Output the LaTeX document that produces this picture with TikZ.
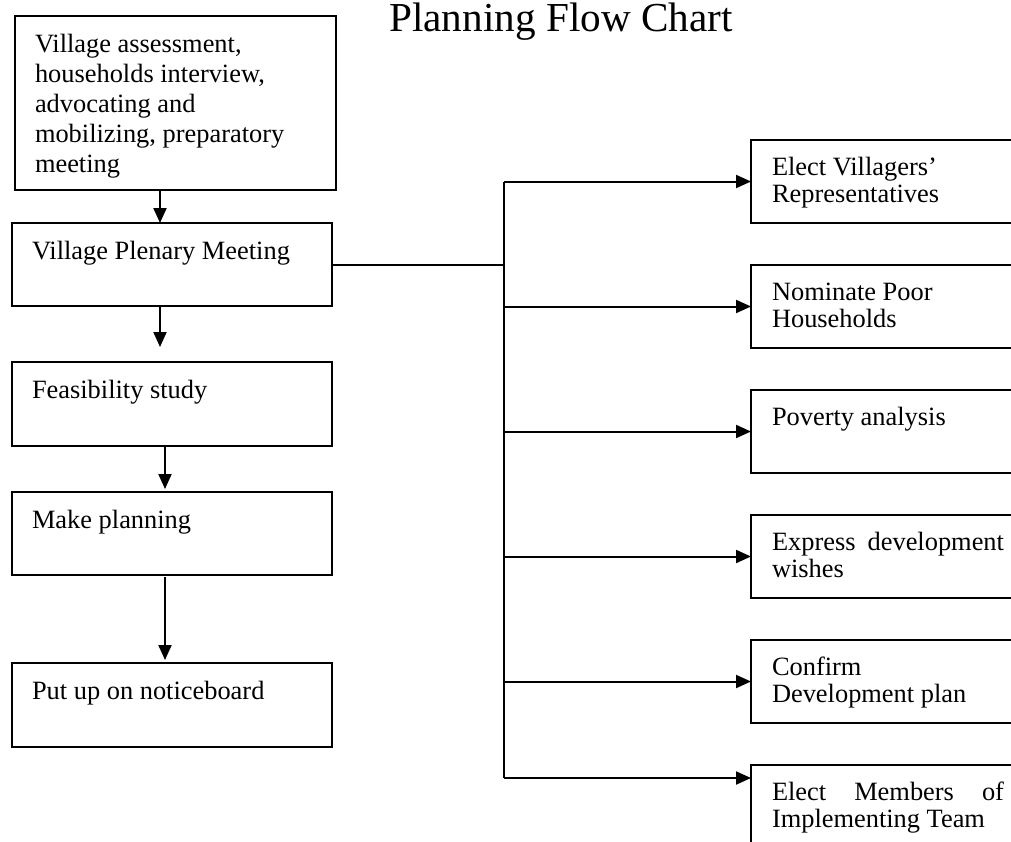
\documentclass[tikz,border=0pt]{standalone}
\usepackage{fontspec}
\setmainfont{Liberation Serif}
\usetikzlibrary{arrows.meta}
\newcommand\lbox[3]{\parbox[c][#2pt][t]{#1pt}{\fontsize{26.4pt}{30pt}\selectfont\raggedright\strut #3}}
\newcommand\rbox[3]{\parbox[c][#2pt][t]{#1pt}{\fontsize{26.4pt}{27pt}\selectfont\raggedright\strut #3}}
\tikzset{
  lstep/.style={draw, line width=2pt, outer sep=0pt, anchor=north west, inner xsep=20pt, inner ysep=15pt},
  rstep/.style={draw, line width=2pt, outer sep=0pt, anchor=north west, inner xsep=21pt, inner ysep=16.1pt},
  conn/.style={line width=2pt},
  arr/.style={line width=2pt, -{Triangle[length=15pt,width=13pt]}},
}
\begin{document}
\begin{tikzpicture}[x=1pt,y=-1pt]
\useasboundingbox (0,0) rectangle (1011,841);
\clip (0,0) rectangle (1011,841);
\node[anchor=base, font=\fontsize{41.2pt}{48pt}\selectfont] (title) at (561,31) {Planning Flow Chart};
% left column
\node[lstep] (b1) at (15,16) {\lbox{281}{144}{Village assessment,\\households interview,\\advocating and\\mobilizing, preparatory\\meeting}};
\node[lstep] (b2) at (12,223) {\lbox{280}{53}{Village Plenary Meeting}};
\node[lstep] (b3) at (12,362) {\lbox{280}{54}{Feasibility study}};
\node[lstep] (b4) at (12,492) {\lbox{280}{53}{Make planning}};
\node[lstep] (b5) at (12,663) {\lbox{280}{54}{Put up on noticeboard}};
% right column
\node[rstep] (r1) at (751,140) {\rbox{232}{50.8}{Elect Villagers'\\Representatives}};
\node[rstep] (r2) at (751,265) {\rbox{232}{50.8}{Nominate Poor\\Households}};
\node[rstep] (r3) at (751,390) {\rbox{232}{50.8}{Poverty analysis}};
\node[rstep] (r4) at (751,515) {\rbox{232}{50.8}{\makebox[232pt][s]{Express development}\\wishes}};
\node[rstep] (r5) at (751,640) {\rbox{232}{50.8}{Confirm\\Development plan}};
\node[rstep] (r6) at (751,765) {\rbox{232}{100}{\makebox[232pt][s]{Elect Members of}\\Implementing Team}};
% left connectors
\draw[arr] ([xshift=145pt]b1.south west) -- ([xshift=148pt]b2.north west);
\draw[arr] ([xshift=148pt]b2.south west) -- ([xshift=148pt,yshift=15pt]b3.north west);
\draw[arr] ([xshift=153pt]b3.south west) -- ([xshift=153pt,yshift=3pt]b4.north west);
\draw[arr] ([xshift=153pt,yshift=-2pt]b4.south west) -- ([xshift=153pt,yshift=3pt]b5.north west);
% trunk
\coordinate (tr) at (504,0);
\coordinate (r6in) at ([yshift=-13pt]r6.north west);
\draw[conn] (b2.east) -- (b2.east -| tr);
\draw[conn] (r1.west -| tr) -- (r6in -| tr);
\foreach \r in {r1,r2,r3,r4,r5} {
  \draw[arr] (\r.west -| tr) -- (\r.west);
}
\draw[arr] (r6in -| tr) -- (r6in);
\end{tikzpicture}
\end{document}
